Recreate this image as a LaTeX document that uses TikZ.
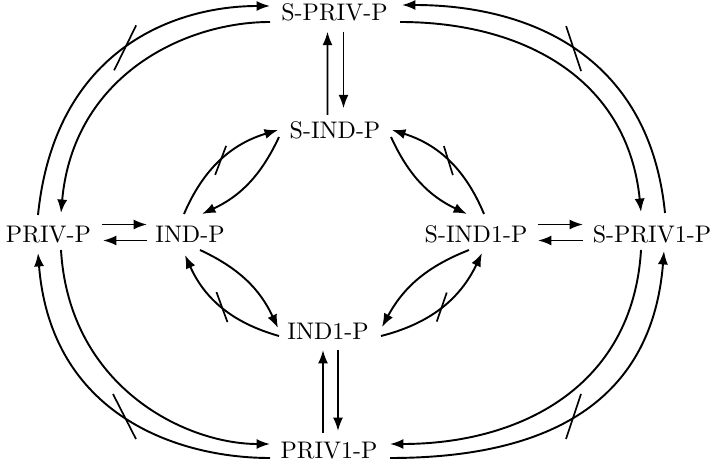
\documentclass[tikz,border=0pt]{standalone}
\usetikzlibrary{arrows.meta}
\begin{document}
\begin{tikzpicture}[x=0.41667pt,y=-0.41667pt,
  lbl/.style={inner sep=0pt},
  arr/.style={line width=0.8pt,-{Latex[length=5.6pt,width=4.2pt]}},
  slashline/.style={line width=0.7pt}]
\useasboundingbox (0,0) rectangle (712,468);
% nodes
\node[lbl] (sprivp)  at (334.5,12)  {S-PRIV-P};
\node[lbl] (sindp)   at (335,130)   {S-IND-P};
\node[lbl] (privp)   at (48.5,234.5) {PRIV-P};
\node[lbl] (indp)    at (190,234.5) {IND-P};
\node[lbl] (sind1p)  at (476,234.5) {S-IND1-P};
\node[lbl] (spriv1p) at (652,234.5) {S-PRIV1-P};
\node[lbl] (ind1p)   at (328,331)   {IND1-P};
\node[lbl] (priv1p)  at (329,451)   {PRIV1-P};
% outer arcs
\draw[arr] ([shift={(-10.5,-19.5)}]privp.center) .. controls +(17,-167) and +(-94,0) .. ([shift={(-64.5,-6)}]sprivp.center) coordinate[pos=0.5] (s1);
\draw[arr] ([shift={(-64.5,10)}]sprivp.center) .. controls +(-85.7,0) and +(12.4,-137.3) .. ([shift={(12.5,-21.5)}]privp.center);
\draw[arr] ([shift={(13,-21.5)}]spriv1p.center) .. controls +(-16,-161) and +(123,0) .. ([shift={(67.5,-7)}]sprivp.center) coordinate[pos=0.5] (s2);
\draw[arr] ([shift={(65.5,10)}]sprivp.center) .. controls +(121.5,0) and +(-13.5,-134.7) .. ([shift={(-11,-22.5)}]spriv1p.center);
\draw[arr] ([shift={(-59,7)}]priv1p.center) .. controls +(-91.7,0) and +(13,162.7) .. ([shift={(-10.5,18.5)}]privp.center) coordinate[pos=0.5] (s3);
\draw[arr] ([shift={(12.5,15.5)}]privp.center) .. controls +(8.2,137.3) and +(-84.2,0) .. ([shift={(-59,-7)}]priv1p.center);
\draw[arr] ([shift={(61,7)}]priv1p.center) .. controls +(137.2,0) and +(-13.2,165.3) .. ([shift={(12,16.5)}]spriv1p.center) coordinate[pos=0.5] (s4);
\draw[arr] ([shift={(-11,15.5)}]spriv1p.center) .. controls +(-8.2,137.3) and +(129.5,0) .. ([shift={(61,-7)}]priv1p.center);
% inner arcs
\draw[arr] ([shift={(-6,-20.5)}]indp.center) .. controls +(19.3,-45.1) and +(-46.9,14.1) .. ([shift={(-57,0)}]sindp.center) coordinate[pos=0.5] (s5);
\draw[arr] ([shift={(-56,7)}]sindp.center) .. controls +(-18,38.5) and +(38.5,-18) .. ([shift={(12,-20.5)}]indp.center);
\draw[arr] ([shift={(8,-20.5)}]sind1p.center) .. controls +(-18.7,-44.9) and +(46.4,14.5) .. ([shift={(57,0)}]sindp.center) coordinate[pos=0.5] (s6);
\draw[arr] ([shift={(56,7)}]sindp.center) .. controls +(17.6,38.4) and +(-38.1,-18.1) .. ([shift={(-9,-20.5)}]sind1p.center);
\draw[arr] ([shift={(-49,5)}]ind1p.center) .. controls +(-46.6,-13.2) and +(19.8,44.1) .. ([shift={(-5,20.5)}]indp.center) coordinate[pos=0.5] (s7);
\draw[arr] ([shift={(10,15.5)}]indp.center) .. controls +(39,18.2) and +(-18.2,-39) .. ([shift={(-50,-3)}]ind1p.center);
\draw[arr] ([shift={(53,5)}]ind1p.center) .. controls +(49.4,-12.6) and +(-22,46) .. ([shift={(6,18.5)}]sind1p.center) coordinate[pos=0.5] (s8);
\draw[arr] ([shift={(-7,15.5)}]sind1p.center) .. controls +(-42.2,16.6) and +(21.6,-39.8) .. ([shift={(54,-4)}]ind1p.center);
% slashes
\draw[slashline] (s1) +(-11,22.5) -- +(11,-22.5);
\draw[slashline] (s2) +(-7.5,-22.5) -- +(7.5,22.5);
\draw[slashline] (s3) +(-11.5,-22.5) -- +(11.5,22.5);
\draw[slashline] (s4) +(7.5,-22.5) -- +(-7.5,22.5);
\draw[slashline] (s5) +(5.5,-14.5) -- +(-5.5,14.5);
\draw[slashline] (s6) +(-4.5,-14.5) -- +(4.5,14.5);
\draw[slashline] (s7) +(-5.5,-15) -- +(5.5,15);
\draw[slashline] (s8) +(5,-14.5) -- +(-5,14.5);
% horizontal pairs
\draw[arr] ([shift={(53.5,-10)}]privp.center) -- ([shift={(-43,-10)}]indp.center);
\draw[arr] ([shift={(-43,6)}]indp.center) -- ([shift={(54.5,6)}]privp.center);
\draw[arr] ([shift={(62,-10)}]sind1p.center) -- ([shift={(-69,-10)}]spriv1p.center);
\draw[arr] ([shift={(-69,6)}]spriv1p.center) -- ([shift={(62,6)}]sind1p.center);
% vertical pairs
\draw[arr] ([shift={(-7.5,-15)}]sindp.center) -- ([shift={(-7,19.7)}]sprivp.center);
\draw[arr] ([shift={(9,19.7)}]sprivp.center) -- ([shift={(8.5,-21.7)}]sindp.center);
\draw[arr] ([shift={(-6,-18)}]priv1p.center) -- ([shift={(-5,19)}]ind1p.center);
\draw[arr] ([shift={(10,19)}]ind1p.center) -- ([shift={(9,-20)}]priv1p.center);
\end{tikzpicture}
\end{document}
